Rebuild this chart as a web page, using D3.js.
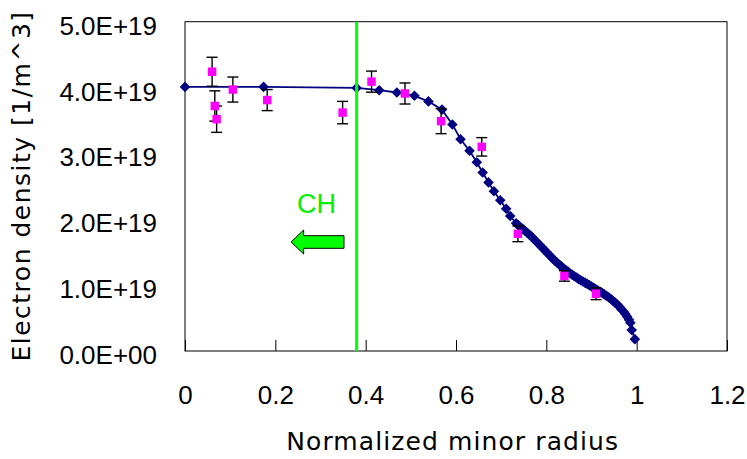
<!DOCTYPE html>
<html>
<head>
<meta charset="utf-8">
<script src="https://cdn.jsdelivr.net/npm/d3@7"></script>
<style>
body { margin: 0; background: #fff; }
</style>
</head>
<body>
<div id="chart"></div>
<script>
// profile points (navy diamonds), density in units of 1E+19 m^-3
var fitR = [0, 0.174, 0.380, 0.430, 0.469, 0.508, 0.539, 0.569, 0.592, 0.610,
    0.630, 0.646, 0.659, 0.672, 0.684, 0.698, 0.711, 0.720, 0.733, 0.738,
    0.743, 0.748, 0.752, 0.757, 0.762, 0.767, 0.771, 0.776, 0.781, 0.786,
    0.790, 0.795, 0.800, 0.805, 0.810, 0.814, 0.819, 0.824, 0.829, 0.833,
    0.838, 0.843, 0.848, 0.852, 0.857, 0.862, 0.867, 0.871, 0.876, 0.881,
    0.886, 0.890, 0.895, 0.900, 0.905, 0.909, 0.914, 0.919, 0.924, 0.928,
    0.933, 0.938, 0.943, 0.947, 0.952, 0.957, 0.962, 0.966, 0.971, 0.975,
    0.979, 0.983, 0.986, 0.989, 0.996];
var fitNe = [4.01, 4.01, 3.995, 3.96, 3.925, 3.875, 3.79, 3.665, 3.44, 3.215,
    3.04, 2.865, 2.71, 2.56, 2.425, 2.29, 2.16, 2.05, 1.94, 1.91,
    1.88, 1.85, 1.83, 1.80, 1.77, 1.74, 1.71, 1.675, 1.64, 1.605,
    1.575, 1.54, 1.505, 1.47, 1.435, 1.40, 1.37, 1.34, 1.31, 1.285,
    1.255, 1.23, 1.205, 1.18, 1.16, 1.135, 1.115, 1.095, 1.075, 1.055,
    1.035, 1.02, 1.00, 0.98, 0.96, 0.94, 0.92, 0.90, 0.88, 0.86,
    0.84, 0.815, 0.79, 0.765, 0.735, 0.705, 0.67, 0.635, 0.60, 0.56,
    0.52, 0.475, 0.43, 0.32, 0.18];

// measured points (magenta squares) with error bars
var measR = [0.060, 0.066, 0.070, 0.106, 0.182, 0.349, 0.413, 0.487, 0.567, 0.657, 0.737, 0.840, 0.910];
var measNe = [4.24, 3.72, 3.52, 3.97, 3.81, 3.62, 4.09, 3.91, 3.49, 3.10, 1.78, 1.14, 0.87];
var measErr = [0.22, 0.23, 0.20, 0.19, 0.16, 0.17, 0.16, 0.16, 0.19, 0.14, 0.12, 0.08, 0.09];

var xTicks = [0, 0.2, 0.4, 0.6, 0.8, 1, 1.2];
var xTickLabels = ["0", "0.2", "0.4", "0.6", "0.8", "1", "1.2"];
var yTicks = [0, 1, 2, 3, 4, 5];
var yTickLabels = ["0.0E+00", "1.0E+19", "2.0E+19", "3.0E+19", "4.0E+19", "5.0E+19"];

var chEdge = 0.38;      // CH boundary (green line)
var chLabel = "CH";

var width = 747, height = 459;
var plot = {left: 185, right: 727, top: 21.7, bottom: 351};

var x = d3.scaleLinear().domain([0, 1.2]).range([plot.left, plot.right]);
var y = d3.scaleLinear().domain([0, 5]).range([plot.bottom, plot.top]);

var svg = d3.select("#chart").append("svg")
    .attr("width", width)
    .attr("height", height)
    .style("font-family", "'Liberation Sans', Arial, sans-serif");

svg.append("rect")
    .attr("width", width).attr("height", height).attr("fill", "#fff");

// x axis, ticks pointing inward
var xAxis = svg.append("g")
    .attr("transform", "translate(0," + plot.bottom + ")")
    .call(d3.axisBottom(x).tickValues(xTicks).tickSize(-11).tickPadding(35)
        .tickFormat(function (d, i) { return xTickLabels[i]; }));
xAxis.select(".domain").remove();
xAxis.selectAll("line").attr("stroke", "#000");
xAxis.selectAll("text").style("font-size", "26px").attr("fill", "#000");

// y axis
var yAxis = svg.append("g")
    .attr("transform", "translate(" + plot.left + ",0)")
    .call(d3.axisLeft(y).tickValues(yTicks).tickSize(0).tickPadding(28)
        .tickFormat(function (d, i) { return yTickLabels[i]; }));
yAxis.select(".domain").remove();
yAxis.selectAll("text").style("font-size", "26px").attr("fill", "#000").attr("dy", "0.48em");

// plot frame
svg.append("rect")
    .attr("x", plot.left).attr("y", plot.top)
    .attr("width", plot.right - plot.left)
    .attr("height", plot.bottom - plot.top)
    .attr("fill", "none")
    .attr("stroke", "#000")
    .attr("stroke-width", 1);

// profile line
var fitData = fitR.map(function (r, i) { return {r: r, ne: fitNe[i]}; });
var line = d3.line()
    .x(function (d) { return x(d.r); })
    .y(function (d) { return y(d.ne); });

svg.append("path")
    .datum(fitData)
    .attr("fill", "none")
    .attr("stroke", "#000080")
    .attr("stroke-width", 1.8)
    .attr("d", line);

// diamonds
svg.selectAll(".diamond")
    .data(fitData)
    .enter().append("path")
    .attr("class", "diamond")
    .attr("d", d3.symbol(d3.symbolSquare).size(56))
    .attr("transform", function (d) {
        return "translate(" + x(d.r) + "," + y(d.ne) + ") rotate(45)";
    })
    .attr("fill", "#000080");

// measured points
var measData = measR.map(function (r, i) { return {r: r, ne: measNe[i], err: measErr[i]}; });
var capW = 5.5;

var bars = svg.selectAll(".errbar")
    .data(measData)
    .enter().append("g")
    .attr("class", "errbar")
    .attr("stroke", "#000")
    .attr("stroke-width", 1.4);
bars.append("line")
    .attr("x1", function (d) { return x(d.r); })
    .attr("x2", function (d) { return x(d.r); })
    .attr("y1", function (d) { return y(d.ne + d.err); })
    .attr("y2", function (d) { return y(d.ne - d.err); });
bars.append("line")
    .attr("x1", function (d) { return x(d.r) - capW; })
    .attr("x2", function (d) { return x(d.r) + capW; })
    .attr("y1", function (d) { return y(d.ne + d.err); })
    .attr("y2", function (d) { return y(d.ne + d.err); });
bars.append("line")
    .attr("x1", function (d) { return x(d.r) - capW; })
    .attr("x2", function (d) { return x(d.r) + capW; })
    .attr("y1", function (d) { return y(d.ne - d.err); })
    .attr("y2", function (d) { return y(d.ne - d.err); });

svg.selectAll(".meas")
    .data(measData)
    .enter().append("path")
    .attr("class", "meas")
    .attr("d", d3.symbol(d3.symbolSquare).size(72))
    .attr("transform", function (d) {
        return "translate(" + x(d.r) + "," + y(d.ne) + ")";
    })
    .attr("fill", "#ff00ff");

// CH boundary
svg.append("line")
    .attr("x1", x(chEdge)).attr("x2", x(chEdge))
    .attr("y1", y(0)).attr("y2", y(5))
    .attr("stroke", "#00ff00")
    .attr("stroke-width", 3);

svg.append("text")
    .attr("x", x(0.291))
    .attr("y", y(2.095))
    .attr("text-anchor", "middle")
    .style("font-size", "27px")
    .attr("fill", "#00f000")
    .text(chLabel);

// arrow pointing to the core side
var ax0 = x(0.235), ax1 = x(0.352), ay = y(1.655);
var headL = 12.5, headH = 12, shaftH = 6.3;
var arrow = [
    [ax0, ay],
    [ax0 + headL, ay - headH],
    [ax0 + headL, ay - shaftH],
    [ax1, ay - shaftH],
    [ax1, ay + shaftH],
    [ax0 + headL, ay + shaftH],
    [ax0 + headL, ay + headH]
];
svg.append("path")
    .attr("d", d3.line()(arrow) + "Z")
    .attr("fill", "#00ff00")
    .attr("stroke", "#000")
    .attr("stroke-width", 1);

// axis titles
svg.append("text")
    .attr("x", 452.7)
    .attr("y", 450)
    .attr("text-anchor", "middle")
    .style("font-family", "'DejaVu Sans', sans-serif")
    .style("font-size", "25px")
    .style("letter-spacing", "1.1px")
    .text("Normalized minor radius");

svg.append("text")
    .attr("transform", "translate(30,186) rotate(-90)")
    .attr("text-anchor", "middle")
    .style("font-family", "'DejaVu Sans', sans-serif")
    .style("font-size", "25px")
    .style("letter-spacing", "1.5px")
    .text("Electron density [1/m^3]");
</script>
</body>
</html>
